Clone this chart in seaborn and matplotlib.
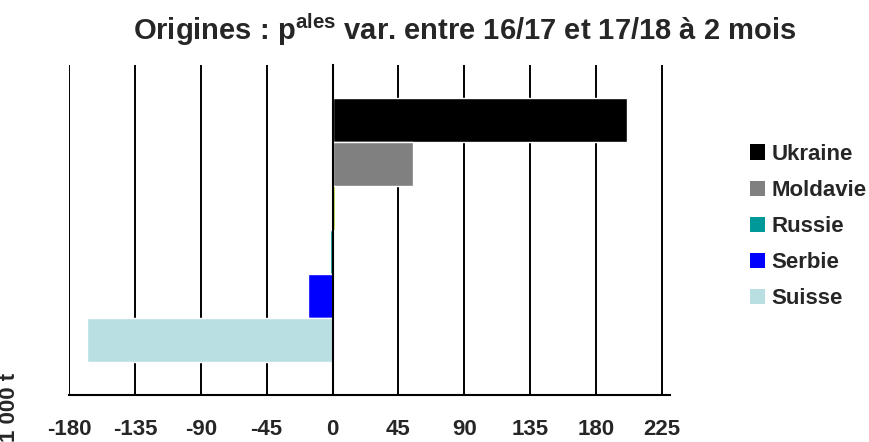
import pandas as pd
import matplotlib
matplotlib.use('Agg')
import matplotlib.pyplot as plt
from matplotlib.patches import Patch
import seaborn as sns

# Variation of imports by origin, 1 000 t
origines = ['Ukraine', 'Moldavie', 'Autres', 'Russie', 'Serbie', 'Suisse']
variations = [201, 55, 1.5, -2, -16.5, -168]
couleurs = ['#000000', '#808080', '#99CC00', '#009999', '#0000FF', '#B9DFE2']
legende = ['Ukraine', 'Moldavie', 'Russie', 'Serbie', 'Suisse']
x_ticks = [-180, -135, -90, -45, 0, 45, 90, 135, 180, 225]

df = pd.DataFrame({'Origine': origines, 'Variation': variations, 'Groupe': [''] * len(origines)})

sns.set_style('white')
plt.rcParams['font.family'] = ['Liberation Sans', 'DejaVu Sans']
plt.rcParams['font.weight'] = 'bold'
plt.rcParams['mathtext.fontset'] = 'custom'
plt.rcParams['mathtext.bf'] = 'Liberation Sans:bold'
plt.rcParams['mathtext.rm'] = 'Liberation Sans:bold'

fig = plt.figure(figsize=(8.7, 4.42), dpi=100)
ax = fig.add_axes([69 / 870, 1 - 395 / 442, (670 - 69) / 870, 330 / 442])

sns.barplot(data=df, x='Variation', y='Groupe', hue='Origine', hue_order=origines,
            palette=couleurs, orient='h', width=0.8, saturation=1, legend=False,
            zorder=2, ax=ax)
for bar in ax.patches:
    bar.set_zorder(2)

ax.set_xlim(-180, 230.5)
ax.set_xticks(x_ticks)
ax.set_xticklabels([str(t) for t in x_ticks], fontsize=16, fontweight='bold')
ax.tick_params(axis='x', direction='out', length=8, width=1.5, color='black', pad=9)
ax.set_yticks([-0.5, 0.5])
ax.set_yticklabels([])
ax.tick_params(axis='y', direction='out', length=8, width=1.5, color='black')
ax.set_xlabel('')
ax.set_ylabel('')

ax.grid(axis='x', color='black', linewidth=1.4, zorder=0)
ax.set_axisbelow(True)
for s in ['top', 'right']:
    ax.spines[s].set_visible(False)
ax.spines['left'].set_position(('data', 0))
ax.spines['left'].set_color('black')
ax.spines['left'].set_linewidth(1.5)
ax.spines['bottom'].set_color('black')
ax.spines['bottom'].set_linewidth(1.5)

handles = [Patch(facecolor=couleurs[origines.index(o)], edgecolor='none', label=o) for o in legende]
fig.legend(handles=handles, loc='upper left', bbox_to_anchor=(741 / 870, 1 - 135 / 442),
           frameon=False, handlelength=0.68, handleheight=0.68,
           handletextpad=0.3, labelspacing=0.68, borderaxespad=0,
           prop={'weight': 'bold', 'size': 16})

fig.text(465 / 870, 1 - 30 / 442, r'Origines : p$^{\mathbf{ales}}$ var. entre 16/17 et 17/18 à 2 mois',
         ha='center', va='center', fontsize=21, fontweight='bold')
fig.text(10 / 870, 0, '1 000 t', rotation=90, ha='center', va='bottom',
         fontsize=16, fontweight='bold')

fig.savefig('out.png', dpi=100)
